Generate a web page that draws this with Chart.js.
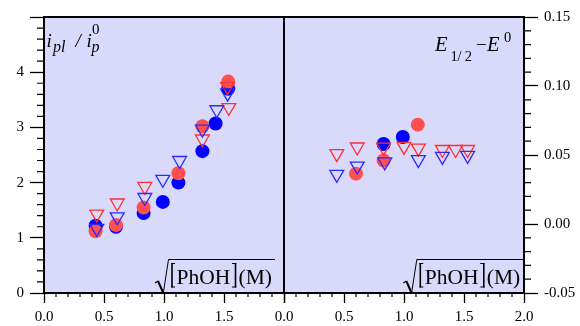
<!DOCTYPE html>
<html><head><meta charset="utf-8">
<script src="https://cdn.jsdelivr.net/npm/chart.js@4.4.0/dist/chart.umd.min.js"></script>
<style>html,body{margin:0;padding:0;background:#fff}#wrap{width:580px;height:326px}
.fl{position:absolute;left:-999px;top:0;font-family:"Liberation Serif";}</style>
</head><body><div id="wrap"><canvas id="c" width="580" height="326"></canvas></div>
<span class="fl">0.5 PhOH</span><span class="fl" style="font-style:italic">i E p</span>
<script>
// ---- Data (left panel: i_pl / i_p^0 ; right panel: E1/2 - E0) ----
const leftBlueCircX = [0.43, 0.60, 0.83, 0.99, 1.12, 1.32, 1.43, 1.535];
const leftBlueCircY = [1.22, 1.20, 1.45, 1.65, 2.00, 2.57, 3.07, 3.70];
const leftRedCircX  = [0.43, 0.60, 0.83, 1.12, 1.32, 1.535];
const leftRedCircY  = [1.12, 1.23, 1.55, 2.17, 3.02, 3.83];
const leftBlueTriX  = [0.44, 0.61, 0.84, 0.99, 1.13, 1.32, 1.44, 1.53];
const leftBlueTriY  = [1.17, 1.38, 1.73, 2.06, 2.40, 2.97, 3.32, 3.62];
const leftRedTriX   = [0.44, 0.61, 0.84, 1.32, 1.54, 1.53];
const leftRedTriY   = [1.43, 1.63, 1.93, 2.79, 3.36, 3.74];

const rightRedCircX  = [0.60, 0.83, 1.115];
const rightRedCircY  = [0.0365, 0.046, 0.072];
const rightBlueCircX = [0.83, 0.99];
const rightBlueCircY = [0.058, 0.063];
const rightRedTriX   = [0.44, 0.61, 0.83, 1.00, 1.12, 1.32, 1.43, 1.53];
const rightRedTriY   = [0.051, 0.0558, 0.0557, 0.0562, 0.055, 0.054, 0.054, 0.054];
const rightBlueTriX  = [0.44, 0.61, 0.84, 1.12, 1.32, 1.53];
const rightBlueTriY  = [0.036, 0.042, 0.045, 0.0467, 0.049, 0.0497];

const xTickStep = 0.5, xMinorStep = 0.1;
const y1TickStep = 1, y1MinorStep = 0.2;
const y2TickStep = 0.05, y2MinorStep = 0.01;

const SERIF = '"Liberation Serif", serif';
Chart.defaults.font.family = SERIF;
Chart.defaults.font.size = 15;
Chart.defaults.color = '#000';

const BLUE = '#0000ff', RED = '#ff5050', RED_T = '#ff3030', BLUE_T = '#2a2aff';
const BG = '#d9d9fb';

function zip(xs, ys){ return xs.map((x,i)=>({x:x, y:ys[i]})); }
function circ(xs, ys, col, xa, ya){
  return {data: zip(xs, ys), xAxisID: xa, yAxisID: ya, pointStyle:'circle', pointRadius:7,
    backgroundColor: col, borderColor: col, borderWidth:0, showLine:false};
}
function tri(xs, ys, col, xa, ya){
  return {data: zip(xs, ys), xAxisID: xa, yAxisID: ya, pointStyle:'triangle', pointRotation:180, pointRadius:8,
    backgroundColor:'rgba(0,0,0,0)', borderColor: col, borderWidth:1.3, showLine:false};
}

const datasets = [
  tri(leftBlueTriX, leftBlueTriY, BLUE_T, 'x1', 'y1'),
  tri(leftRedTriX, leftRedTriY, RED_T, 'x1', 'y1'),
  circ(leftRedCircX, leftRedCircY, RED, 'x1', 'y1'),
  circ(leftBlueCircX, leftBlueCircY, BLUE, 'x1', 'y1'),
  tri(rightBlueTriX, rightBlueTriY, BLUE_T, 'x2', 'y2'),
  tri(rightRedTriX, rightRedTriY, RED_T, 'x2', 'y2'),
  circ(rightRedCircX, rightRedCircY, RED, 'x2', 'y2'),
  circ(rightBlueCircX, rightBlueCircY, BLUE, 'x2', 'y2')
];

const gridCfg = (len)=>({display:true, drawOnChartArea:false, drawTicks:true, tickLength:len,
  color:'#000', tickColor:'#000', tickWidth:1.3});

function panels(chart){
  const a = chart.chartArea, x1 = chart.scales.x1, x2 = chart.scales.x2;
  return [{l:x1.left, r:x1.right, t:a.top, b:a.bottom}, {l:x2.left, r:x2.right, t:a.top, b:a.bottom}];
}

function drawSqrtLabel(ctx, x0){
  ctx.save();
  ctx.strokeStyle = '#000'; ctx.fillStyle = '#000';
  ctx.lineCap = 'butt';
  ctx.beginPath(); ctx.lineWidth = 1.1; ctx.moveTo(x0, 283); ctx.lineTo(x0+3, 281); ctx.stroke();
  ctx.beginPath(); ctx.lineWidth = 2; ctx.moveTo(x0+3, 281); ctx.lineTo(x0+8.3, 293); ctx.stroke();
  ctx.beginPath(); ctx.lineWidth = 1; ctx.moveTo(x0+8.3, 293); ctx.lineTo(x0+13.5, 259.5); ctx.lineTo(x0+120, 259.5); ctx.stroke();
  ctx.beginPath(); ctx.lineWidth = 1.6; ctx.moveTo(x0+17, 263); ctx.lineTo(x0+17, 287.5); ctx.stroke();
  ctx.beginPath(); ctx.lineWidth = 1; ctx.moveTo(x0+16.2, 263.5); ctx.lineTo(x0+20, 263.5);
  ctx.moveTo(x0+16.2, 287); ctx.lineTo(x0+20, 287); ctx.stroke();
  ctx.beginPath(); ctx.lineWidth = 1.6; ctx.moveTo(x0+80.5, 263); ctx.lineTo(x0+80.5, 287.5); ctx.stroke();
  ctx.beginPath(); ctx.lineWidth = 1; ctx.moveTo(x0+77, 263.5); ctx.lineTo(x0+81.3, 263.5);
  ctx.moveTo(x0+77, 287); ctx.lineTo(x0+81.3, 287); ctx.stroke();
  ctx.font = '21.5px ' + SERIF; ctx.textBaseline = 'alphabetic'; ctx.textAlign = 'left';
  ctx.fillText('PhOH', x0+21.5, 283.5);
  ctx.fillText('(M)', x0+83.5, 283.5);
  ctx.restore();
}

const deco = {
  id:'deco',
  beforeDraw(chart){
    const ctx = chart.ctx;
    ctx.save(); ctx.fillStyle = BG;
    for (const p of panels(chart)) ctx.fillRect(p.l, p.t, p.r-p.l, p.b-p.t);
    ctx.restore();
  },
  afterDatasetsDraw(chart){
    const ctx = chart.ctx, a = chart.chartArea;
    const s = chart.scales;
    ctx.save();
    ctx.strokeStyle = '#000'; ctx.lineWidth = 1.2;
    ctx.beginPath();
    for (const sc of [s.x1, s.x2]) {
      for (let k = 0; k <= 20; k++) {
        if (k % 5 === 0) continue;
        const px = sc.getPixelForValue(k * xMinorStep);
        ctx.moveTo(px, a.bottom); ctx.lineTo(px, a.bottom + 4);
      }
    }
    for (let k = 0; k <= 25; k++) {
      if (k % 5 === 0) continue;
      const py = s.y1.getPixelForValue(k * y1MinorStep);
      ctx.moveTo(a.left, py); ctx.lineTo(a.left - 7, py);
    }
    for (let k = -5; k <= 15; k++) {
      if (((k % 5) + 5) % 5 === 0) continue;
      const py = s.y2.getPixelForValue(k * y2MinorStep);
      ctx.moveTo(a.right, py); ctx.lineTo(a.right + 7, py);
    }
    ctx.stroke();
    ctx.lineWidth = 2;
    for (const p of panels(chart)) ctx.strokeRect(p.l, p.t, p.r-p.l, p.b-p.t);
    ctx.fillStyle = '#000'; ctx.textBaseline = 'alphabetic'; ctx.textAlign = 'left';
    const it19 = 'italic 19px ' + SERIF, it16 = 'italic 16px ' + SERIF;
    ctx.font = it19; ctx.fillText('i', 46.5, 47);
    ctx.font = it16; ctx.fillText('pl', 53, 51.5);
    ctx.font = it19; ctx.fillText('/', 75.5, 47);
    ctx.font = it19; ctx.fillText('i', 86.5, 47);
    ctx.font = '15px ' + SERIF; ctx.fillText('0', 92, 33.5);
    ctx.font = it16; ctx.fillText('p', 91.5, 51.5);

    const it20 = 'italic 20.5px ' + SERIF;
    ctx.font = it20; ctx.fillText('E', 435, 50.7);
    ctx.font = '14.5px ' + SERIF;
    ctx.fillText('1', 450.5, 60.5); ctx.fillText('/', 457.5, 60.5); ctx.fillText('2', 464.8, 60.5);
    ctx.font = '19px ' + SERIF; ctx.fillText('\u2212', 476, 50.7);
    ctx.font = it20; ctx.fillText('E', 487, 50.7);
    ctx.font = '14.5px ' + SERIF; ctx.fillText('0', 504, 41.5);
    ctx.restore();
    drawSqrtLabel(ctx, 155);
    drawSqrtLabel(ctx, 403.3);
  }
};

function build(){
  new Chart(document.getElementById('c'), {
    type:'scatter',
    data:{datasets},
    options:{
      responsive:false, animation:false, devicePixelRatio:1,
      layout:{padding:{top:17, left:0, right:0, bottom:0}},
      plugins:{legend:{display:false}, tooltip:{enabled:false}},
      scales:{
        x1:{type:'linear', position:'bottom', stack:'xs', stackWeight:1, min:0, max:2,
          ticks:{stepSize:xTickStep, autoSkip:false, maxRotation:0, padding:5,
            callback:(v)=> v > 1.99 ? '' : Number(v).toFixed(1)},
          grid:gridCfg(10), border:{display:false}, afterFit:(sc)=>{sc.height = 33;}},
        x2:{type:'linear', position:'bottom', stack:'xs', stackWeight:1, min:0, max:2,
          ticks:{stepSize:xTickStep, autoSkip:false, maxRotation:0, padding:5,
            callback:(v)=> Number(v).toFixed(1)},
          grid:gridCfg(10), border:{display:false}, afterFit:(sc)=>{sc.height = 33;}},
        y1:{type:'linear', position:'left', min:0, max:5,
          ticks:{stepSize:y1TickStep, autoSkip:false, padding:6,
            callback:(v)=> v > 4.5 ? '' : String(Math.round(v))},
          grid:gridCfg(14), border:{display:false}, afterFit:(sc)=>{sc.width = 44;}},
        y2:{type:'linear', position:'right', min:-0.05, max:0.15,
          ticks:{stepSize:y2TickStep, autoSkip:false, padding:6,
            callback:(v)=> Math.abs(v) < 1e-9 ? '0.00' : Number(v).toFixed(2)},
          grid:gridCfg(14), border:{display:false}, afterFit:(sc)=>{sc.width = 56;}}
      }
    },
    plugins:[deco]
  });
}
let built = false;
function once(){ if (!built) { built = true; build(); } }
if (document.fonts && document.fonts.load) {
  Promise.all([
    document.fonts.load('15px "Liberation Serif"'),
    document.fonts.load('italic 19px "Liberation Serif"')
  ]).then(once, once);
  setTimeout(once, 800);
} else { once(); }
</script></body></html>
